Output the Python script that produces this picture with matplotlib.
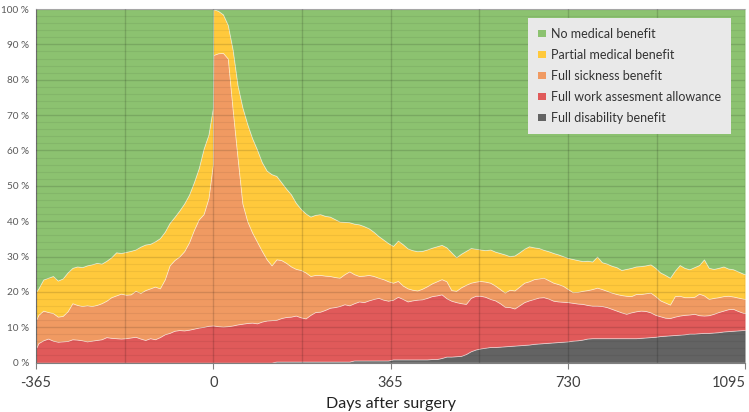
import numpy as np
import matplotlib
matplotlib.use("Agg")
import matplotlib.pyplot as plt
from matplotlib.patches import Patch
from matplotlib.ticker import MultipleLocator, FuncFormatter

plt.rcParams['font.family'] = ['Lato', 'DejaVu Sans']

# ── Data: days relative to surgery and cumulative shares (%) ──────────────────
days = np.r_[-365, np.arange(-360, 0, 10), -1, np.arange(0, 1091, 10), 1095]

# top edge of the grey band (full disability benefit)
top_disability = [0.0] * 38 + [
    0, 0, 0, 0, 0, 0, 0, 0, 0, 0,
    0, 0, 0, 0.3, 0.3, 0.3, 0.3, 0.3, 0.3, 0.3,
    0.3, 0.3, 0.3, 0.3, 0.3, 0.3, 0.3, 0.3, 0.3, 0.6,
    0.6, 0.6, 0.6, 0.6, 0.6, 0.6, 0.6, 0.9, 0.9, 0.9,
    0.9, 0.9, 0.9, 0.9, 0.9, 1.0, 1.0, 1.3, 1.7, 1.7,
    1.8, 1.9, 2.4, 3.2, 3.7, 4.0, 4.2, 4.4, 4.4, 4.5,
    4.6, 4.7, 4.8, 4.9, 5.0, 5.1, 5.3, 5.4, 5.5, 5.6,
    5.7, 5.8, 5.9, 6.0, 6.2, 6.3, 6.5, 6.8, 6.9, 6.9,
    6.9, 6.9, 6.9, 6.9, 6.9, 6.9, 6.9, 6.9, 7.0, 7.1,
    7.2, 7.3, 7.5, 7.6, 7.7, 7.8, 7.9, 8.0, 8.2, 8.2,
    8.3, 8.4, 8.4, 8.5, 8.6, 8.8, 8.9, 9.0, 9.1, 9.2,
    9.2]

# top edge of the red band (full work assessment allowance)
top_work = [
    4.0, 5.5, 6.3, 6.8, 6.2, 5.9, 6.0, 6.1, 6.6, 6.5, 6.3, 6.0, 6.2, 6.4,
    6.6, 7.2, 7.0, 6.9, 6.8, 6.9, 7.1, 7.3, 6.8, 6.4, 6.9, 6.6, 7.2, 8.0,
    8.4, 9.0, 9.2, 9.1, 9.3, 9.6, 9.9, 10.1, 10.4, 10.5,
    10.5, 10.3, 10.2, 10.3, 10.5, 10.8, 11.0, 11.2, 11.3, 11.1,
    11.6, 11.9, 12.0, 12.1, 12.6, 12.9, 13.0, 13.3, 12.8, 12.5,
    13.5, 14.3, 14.4, 14.9, 15.5, 15.7, 16.0, 16.5, 16.2, 16.8,
    17.3, 17.1, 17.6, 18.0, 18.3, 17.8, 17.5, 17.8, 18.6, 18.0,
    17.3, 17.6, 17.8, 17.9, 18.3, 18.8, 19.0, 19.3, 18.2, 17.5,
    17.1, 16.8, 16.6, 18.3, 18.9, 18.9, 18.6, 18.0, 17.6, 16.8,
    15.8, 15.7, 15.3, 16.2, 17.1, 17.6, 18.0, 18.4, 18.5, 18.1,
    17.5, 17.3, 17.2, 17.1, 16.9, 16.7, 16.6, 16.3, 16.1, 16.1,
    16.0, 15.7, 15.2, 14.7, 14.2, 13.8, 14.2, 14.5, 14.7, 14.6,
    14.2, 13.5, 13.1, 12.7, 12.6, 13.0, 13.3, 13.5, 13.6, 13.8,
    13.4, 13.3, 13.4, 13.8, 14.3, 14.7, 15.1, 15.2, 14.6, 14.1,
    14.0]

# top edge of the orange band (full sickness benefit)
top_sickness = [
    12.0, 13.5, 14.7, 14.3, 14.0, 13.0, 13.2, 14.5, 16.8, 16.3, 16.0, 16.2,
    16.0, 16.3, 16.8, 17.5, 18.5, 19.0, 19.5, 19.2, 19.3, 20.3, 19.7, 20.5,
    21.0, 21.5, 21.0, 23.5, 27.5, 29.0, 30.0, 31.5, 34.0, 37.5, 40.5, 42.0,
    46.5, 56.0,
    87.0, 87.5, 87.6, 86.0, 71.5, 58.0, 45.0, 40.0, 36.8, 34.2,
    31.6, 29.2, 27.5, 29.2, 29.0, 28.2, 27.2, 26.5, 26.2, 25.5,
    24.5, 24.8, 24.8, 24.6, 24.5, 24.2, 24.0, 25.0, 25.8, 25.0,
    24.5, 24.6, 24.8, 24.5, 24.0, 23.6, 23.0, 22.6, 23.1, 21.8,
    21.0, 20.6, 20.4, 20.9, 21.6, 22.4, 23.0, 23.6, 23.0, 20.5,
    20.3, 21.3, 22.0, 22.6, 22.9, 23.1, 22.9, 22.6, 21.8, 20.8,
    19.8, 20.6, 20.4, 21.5, 22.6, 23.0, 23.6, 23.8, 24.0, 23.3,
    22.6, 22.2, 21.7, 20.8, 19.9, 20.0, 20.3, 20.5, 20.8, 21.2,
    20.8, 20.3, 19.8, 19.4, 19.1, 18.9, 18.8, 19.4, 19.4, 19.6,
    19.8, 18.8, 17.6, 17.0, 16.4, 18.8, 18.9, 18.5, 18.5, 18.6,
    19.5, 19.0, 18.0, 18.3, 18.5, 18.8, 18.9, 18.7, 18.4, 18.1,
    18.0]

# top edge of the yellow band (partial medical benefit)
top_partial = [
    20.0, 21.0, 23.5, 24.0, 24.5, 23.2, 23.8, 25.5, 26.8, 27.2, 27.0, 27.5,
    27.8, 28.2, 28.0, 28.8, 29.8, 31.2, 31.0, 31.3, 31.6, 32.0, 32.8, 33.4,
    33.6, 34.3, 35.2, 37.0, 39.5, 41.2, 43.0, 45.0, 47.5, 51.0, 55.0, 60.5,
    64.5, 72.0,
    100.0, 99.5, 98.5, 95.5, 88.5, 78.5, 72.2, 67.5, 63.5, 60.3,
    56.7, 54.3, 53.3, 52.8, 51.0, 49.2, 47.6, 45.2, 43.5, 42.2,
    41.3, 41.8, 42.0, 41.5, 41.3, 40.6, 39.9, 39.8, 39.7, 39.3,
    39.1, 38.6, 38.0, 37.0, 35.8, 34.8, 33.8, 33.0, 34.5, 33.5,
    32.3, 31.8, 31.5, 31.6, 32.0, 32.5, 32.9, 33.3, 32.6, 31.2,
    29.8, 30.8, 31.6, 32.4, 32.2, 32.0, 31.8, 32.0, 31.4, 31.0,
    30.6, 30.1, 30.3, 31.2, 32.2, 32.9, 32.6, 32.4, 31.9, 31.5,
    31.0, 30.6, 30.1, 29.6, 29.3, 29.0, 28.7, 28.8, 28.6, 30.0,
    28.4, 28.0, 27.4, 27.0, 26.2, 26.5, 26.8, 27.2, 27.3, 27.5,
    27.8, 26.8, 25.5, 24.8, 24.0, 26.0, 27.6, 26.8, 26.4, 27.0,
    27.6, 29.2, 26.8, 26.5, 26.8, 27.2, 26.6, 26.4, 25.8, 25.2,
    25.0]

labels = ['No medical benefit', 'Partial medical benefit', 'Full sickness benefit',
          'Full work assesment allowance', 'Full disability benefit']
colors = ['#8cc270', '#ffc93c', '#f09a62', '#e05a5a', '#636363']

# ── Shares per category from the cumulative edges ─────────────────────────────
edges = np.vstack([np.zeros(len(days)), top_disability, top_work,
                   top_sickness, top_partial, np.full(len(days), 100.0)])
shares = np.diff(edges, axis=0)  # disability, work, sickness, partial, none

# ── Plot ──────────────────────────────────────────────────────────────────────
fig = plt.figure(figsize=(7.49, 4.12), dpi=100)
ax = fig.add_axes([0.048, 0.12, 0.947, 0.858])

ax.stackplot(days, shares, colors=colors[::-1],
             edgecolor=(1, 1, 1, 0.45), linewidth=0.6)

ax.set_xlim(-365, 1095)
ax.set_ylim(0, 100)

ax.xaxis.set_major_locator(MultipleLocator(365))
ax.xaxis.set_minor_locator(MultipleLocator(182.5))
ax.yaxis.set_major_locator(MultipleLocator(10))
ax.yaxis.set_minor_locator(MultipleLocator(2))
ax.yaxis.set_major_formatter(FuncFormatter(lambda v, p: f"{v:.0f} %"))

# gridlines sit on top of the areas, darkening whatever they cross
ax.grid(which='major', axis='y', color='black', alpha=0.13, linewidth=1.0, zorder=5)
ax.grid(which='minor', axis='y', color='black', alpha=0.06, linewidth=0.8, zorder=5)
ax.grid(which='both', axis='x', color='black', alpha=0.15, linewidth=1.0, zorder=5)
ax.set_axisbelow(False)

ax.tick_params(axis='x', which='major', length=4, color='#808080', pad=6,
               labelsize=10.5, labelcolor='#404040')
ax.tick_params(axis='x', which='minor', length=0)
ax.tick_params(axis='y', which='both', length=0, pad=5,
               labelsize=7.2, labelcolor='#595959')
ax.set_xticks([-365, 0, 365, 730, 1095])
ax.set_xticklabels(['-365', '0', '365', '730', '1095'])
ax.get_xticklabels()[-1].set_ha('right')

ax.set_xlabel('Days after surgery', fontsize=11.5, color='#222222', labelpad=5)

for side in ['left', 'bottom']:
    ax.spines[side].set_color('#7f7f7f')
ax.spines['top'].set_color('#bfbfbf')
ax.spines['right'].set_visible(False)

handles = [Patch(facecolor=c, edgecolor='none') for c in colors]
leg = ax.legend(handles, labels, loc='upper right', bbox_to_anchor=(0.98, 0.975),
                fontsize=9, frameon=True, fancybox=False, framealpha=1,
                facecolor='#e9e9e9', edgecolor='none', handlelength=0.6,
                handleheight=0.6, handletextpad=0.4, labelspacing=0.72,
                borderpad=0.8, borderaxespad=0)
for t in leg.get_texts():
    t.set_color('#333333')
leg.set_zorder(10)

fig.savefig('out.png', dpi=100)
